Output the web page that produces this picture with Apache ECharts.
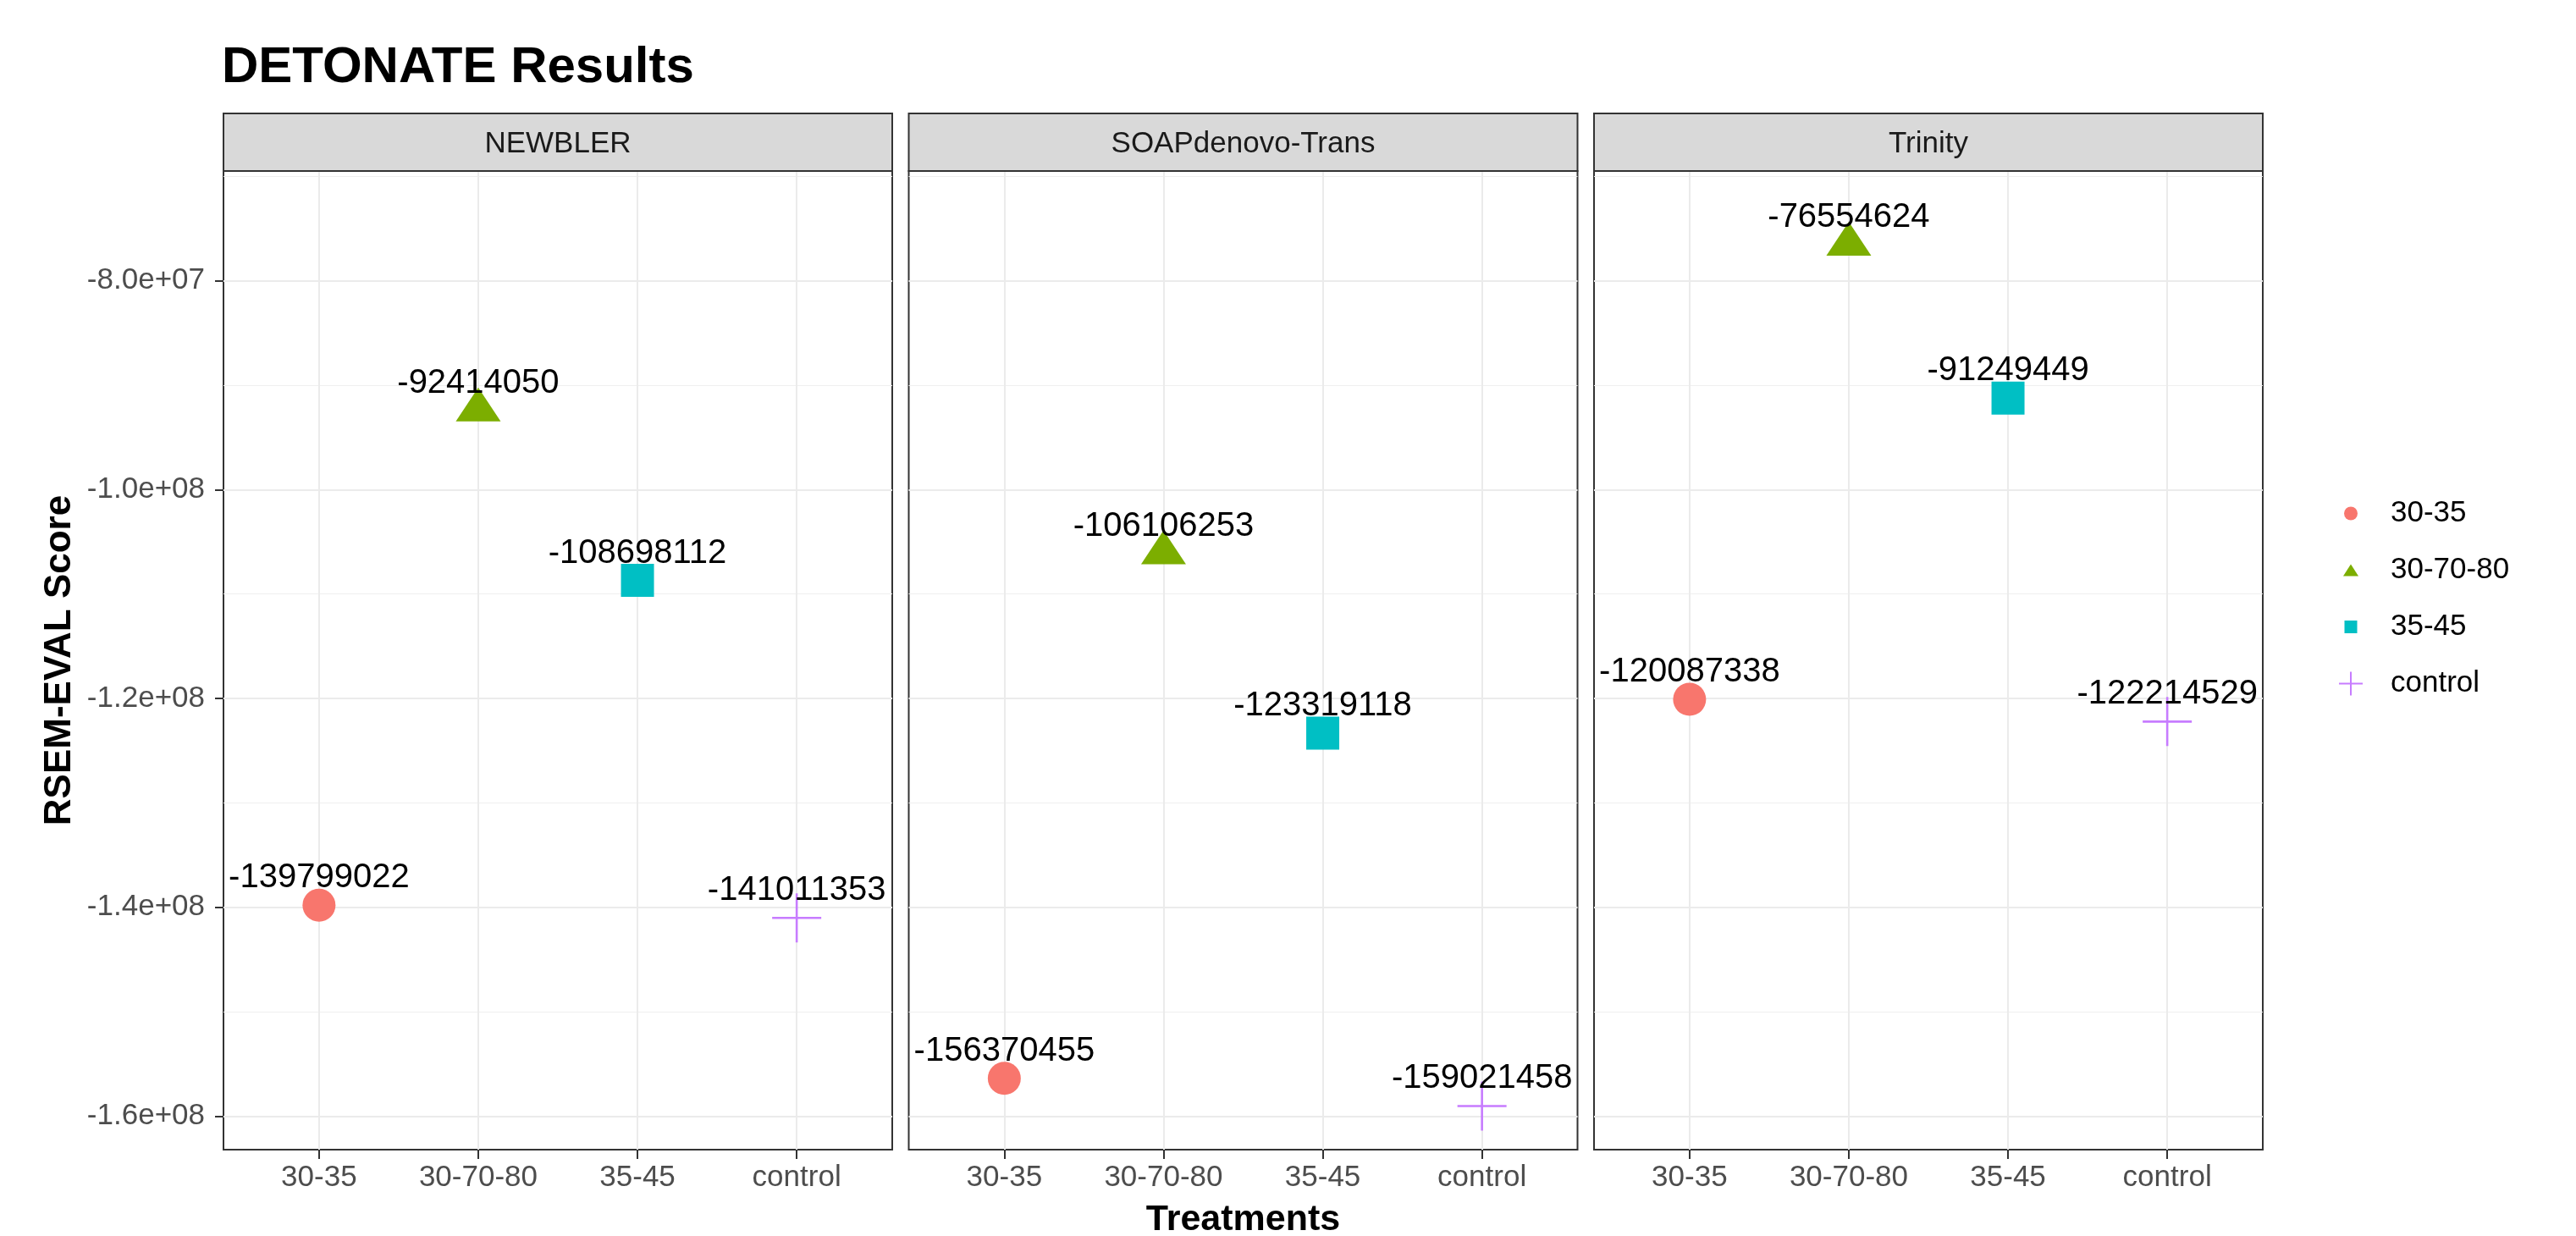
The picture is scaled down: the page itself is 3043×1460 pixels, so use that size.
<!DOCTYPE html>
<html>
<head>
<meta charset="utf-8">
<title>DETONATE Results</title>
<script src="https://cdn.jsdelivr.net/npm/echarts@6/dist/echarts.min.js"></script>
<style>
  html, body { margin: 0; padding: 0; background: #ffffff; }
  #chart { width: 3043px; height: 1460px; }
</style>
</head>
<body>
<div id="chart"></div>
<script>
// Facets (assemblers) and the treatments plotted on each x axis
const assemblers = ['NEWBLER', 'SOAPdenovo-Trans', 'Trinity'];
const treatments = ['30-35', '30-70-80', '35-45', 'control'];

// RSEM-EVAL scores, listed in treatment order
const newblerScores = [-139799022, -92414050, -108698112, -141011353];
const soapScores    = [-156370455, -106106253, -123319118, -159021458];
const trinityScores = [-120087338, -76554624, -91249449, -122214529];

// y-axis breaks
const yMajorTicks = [-80000000, -100000000, -120000000, -140000000, -160000000];
const yMinorTicks = [-70000000, -90000000, -110000000, -130000000, -150000000];
const yLimits = [-163200000, -69500000];

const scoresByAssembler = [newblerScores, soapScores, trinityScores];

// ggplot2 default hue palette for four groups
const colors = ['#F8766D', '#7CAE00', '#00BFC4', '#C77CFF'];
const FONT = '"Liberation Sans", Arial, Helvetica, sans-serif';

// marker shapes: filled circle, triangle, square, thin plus
const plusPath = 'path://M-1.3 -29h2.6v27.7h27.7v2.6h-27.7v27.7h-2.6v-27.7h-27.7v-2.6h27.7z';
const markerSymbols = ['circle', 'triangle', 'rect', plusPath];
const markerSizes = [39, [53, 40], 39, 58];
const markerOffsets = [[0, 0], [0, -7], [0, 0], [0, 0]];

// legend keys: small shapes centred in a wider box so the text sits further right
const legendIcons = [
  'path://M0 0M84 30M34 15a8 8 0 1 0 16 0a8 8 0 1 0 -16 0z',
  'path://M0 0M84 30M42 8L51 22L33 22Z',
  'path://M0 0M84 30M34.5 7.5h15v15h-15z',
  'path://M0 0M84 30M41 1h2v13h13v2h-13v13h-2v-13h-13v-2h13z'
];

// panel geometry
const PANEL_LEFT = [264, 1073.5, 1883];
const PANEL_WIDTH = 790;
const PANEL_TOP = 202;
const PANEL_HEIGHT = 1156;
const STRIP_TOP = 134;

function sciLabel(v) {
  return Number(v).toExponential(1).replace(/e([+-])(\d)$/, function (m, s, d) {
    return 'e' + s + '0' + d;
  });
}

const grids = [], xAxes = [], yAxes = [], series = [], graphics = [];

assemblers.forEach(function (name, p) {
  grids.push({
    left: PANEL_LEFT[p], top: PANEL_TOP, width: PANEL_WIDTH, height: PANEL_HEIGHT,
    outerBoundsMode: 'none', containLabel: false,
    show: true, borderColor: '#333333', borderWidth: 2, backgroundColor: '#ffffff'
  });

  const tickPositions = treatments.map(function (t, i) { return i + 1; });
  xAxes.push({
    gridIndex: p, type: 'value', min: 0.4, max: treatments.length + 0.6,
    axisLine: { show: false },
    axisTick: { show: true, length: 11, customValues: tickPositions,
                lineStyle: { color: '#333333', width: 2 } },
    axisLabel: { show: true, customValues: tickPositions, margin: 16,
                 formatter: function (v) { return treatments[Math.round(v) - 1]; },
                 fontSize: 35, color: '#4D4D4D', fontFamily: FONT },
    splitLine: { show: true, lineStyle: { color: '#EBEBEB', width: 2 } },
    name: p === 1 ? 'Treatments' : '',
    nameLocation: 'middle', nameGap: 62,
    nameTextStyle: { fontSize: 43, fontWeight: 'bold', color: '#000000', fontFamily: FONT }
  });

  yAxes.push({
    gridIndex: p, type: 'value', min: yLimits[0], max: yLimits[1],
    axisLine: { show: false },
    axisTick: { show: p === 0, length: 10, customValues: yMajorTicks,
                lineStyle: { color: '#333333', width: 2 } },
    axisLabel: { show: p === 0, customValues: yMajorTicks, margin: 22,
                 formatter: sciLabel, fontSize: 35, color: '#4D4D4D', fontFamily: FONT },
    splitLine: { show: true, lineStyle: { color: '#EBEBEB', width: 2.2 } },
    name: p === 0 ? 'RSEM-EVAL Score' : '',
    nameLocation: 'middle', nameGap: 171,
    nameTextStyle: { fontSize: 44, fontWeight: 'bold', color: '#000000', fontFamily: FONT }
  });

  // facet strip
  graphics.push({
    type: 'rect', z: 10,
    shape: { x: PANEL_LEFT[p], y: STRIP_TOP, width: PANEL_WIDTH, height: PANEL_TOP - STRIP_TOP },
    style: { fill: '#D9D9D9', stroke: '#333333', lineWidth: 2 }
  });
  graphics.push({
    type: 'text', z: 11,
    x: PANEL_LEFT[p] + PANEL_WIDTH / 2, y: (STRIP_TOP + PANEL_TOP) / 2 + 2,
    style: { text: name, fontSize: 35, fill: '#1A1A1A', fontFamily: FONT,
             align: 'center', verticalAlign: 'middle' }
  });
});

// minor grid lines: a second, label-free y axis on each panel
assemblers.forEach(function (name, p) {
  yAxes.push({
    gridIndex: p, type: 'value', min: yLimits[0], max: yLimits[1],
    axisLine: { show: false },
    axisTick: { show: false, customValues: yMinorTicks },
    axisLabel: { show: false, customValues: yMinorTicks },
    splitLine: { show: true, lineStyle: { color: '#EFEFEF', width: 1.2 } }
  });
});

assemblers.forEach(function (name, p) {
  treatments.forEach(function (t, i) {
    series.push({
      type: 'scatter', name: t,
      xAxisIndex: p, yAxisIndex: p,
      symbol: markerSymbols[i], symbolSize: markerSizes[i], symbolOffset: markerOffsets[i],
      itemStyle: { color: colors[i], opacity: 1 },
      emphasis: { disabled: true },
      data: [[i + 1, scoresByAssembler[p][i]]],
      label: {
        show: true, position: 'inside',
        offset: [0, -32 - markerOffsets[i][1]],
        formatter: function (d) { return String(d.value[1]); },
        fontSize: 40, color: '#000000', fontFamily: FONT
      },
      z: 3
    });
  });
});

const chart = echarts.init(document.getElementById('chart'), null, { renderer: 'canvas' });
chart.setOption({
  backgroundColor: '#ffffff',
  animation: false,
  title: {
    text: 'DETONATE Results', left: 262, top: 50, padding: 0,
    textStyle: { fontSize: 60, fontWeight: 'bold', color: '#000000', fontFamily: FONT }
  },
  legend: {
    orient: 'vertical', left: 2730, top: 584,
    itemWidth: 84, itemHeight: 30, itemGap: 32,
    selectedMode: false,
    textStyle: { fontSize: 35, color: '#000000', fontFamily: FONT, lineHeight: 30 },
    data: treatments.map(function (t, i) { return { name: t, icon: legendIcons[i] }; })
  },
  grid: grids,
  xAxis: xAxes,
  yAxis: yAxes,
  graphic: graphics,
  series: series
});
</script>
</body>
</html>
